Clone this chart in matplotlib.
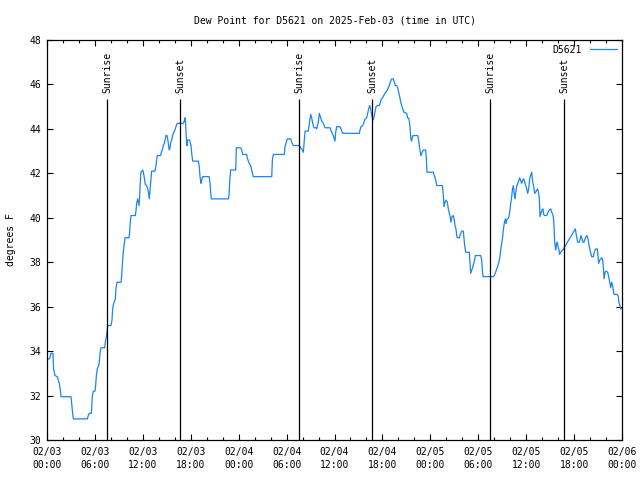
import matplotlib
matplotlib.use("Agg")
import matplotlib.pyplot as plt
from matplotlib.ticker import MultipleLocator

# hours since 2025-02-03 00:00 UTC and dew point (F)
hours = [0.0, 0.3, 0.4, 0.5, 0.75, 0.83, 1.0, 1.29, 1.42, 1.59, 1.67, 1.75, 3.0, 3.09, 3.21, 3.3,
         5.05, 5.17, 5.3, 5.55, 5.59, 5.67, 5.8, 6.01, 6.09, 6.18, 6.3, 6.51, 6.64, 6.76, 7.22, 7.3,
         7.43, 7.51, 7.6, 8.01, 8.14, 8.22, 8.35, 8.56, 8.64, 8.77, 9.27, 9.35, 9.43, 9.52, 9.69, 9.77,
         10.27, 10.35, 10.44, 10.52, 11.06, 11.14, 11.23, 11.35, 11.44, 11.52, 11.6, 11.69, 11.77, 11.98,
         12.06, 12.19, 12.31, 12.48, 12.6, 12.69, 12.81, 12.9, 13.02, 13.1, 13.52, 13.65, 13.73, 13.81,
         14.23, 14.31, 14.44, 14.56, 14.69, 14.81, 14.9, 15.03, 15.11, 15.19, 15.31, 15.4, 15.48, 15.61,
         15.73, 15.82, 15.94, 16.07, 16.19, 16.32, 17.07, 17.19, 17.28, 17.36, 17.45, 17.53, 17.61, 17.74,
         17.87, 17.95, 18.03, 18.12, 18.24, 18.95, 19.07, 19.16, 19.28, 19.37, 19.49, 20.29, 20.41, 20.5,
         20.58, 22.7, 22.79, 22.88, 23.0, 23.63, 23.71, 24.25, 24.38, 24.5, 25.0, 25.08, 25.21, 25.33,
         25.5, 25.63, 25.83, 28.14, 28.22, 28.34, 29.72, 29.8, 30.09, 30.51, 30.64, 30.84, 31.6, 31.76,
         31.97, 32.1, 32.22, 32.31, 32.72, 32.85, 33.02, 33.14, 33.27, 33.43, 33.68, 33.77, 33.97, 34.1,
         34.27, 34.4, 34.6, 34.81, 35.44, 35.65, 35.85, 36.06, 36.15, 36.28, 36.69, 36.81, 37.02, 39.11,
         39.19, 39.32, 39.53, 39.69, 39.82, 40.03, 40.16, 40.28, 40.41, 40.53, 40.61, 40.74, 40.86, 40.99,
         41.11, 41.2, 41.36, 41.61, 41.74, 41.86, 42.03, 42.16, 42.32, 42.54, 42.74, 42.86, 43.04, 43.16,
         43.37, 43.49, 43.62, 43.79, 43.91, 44.04, 44.16, 44.29, 44.41, 44.54, 44.7, 45.04, 45.16, 45.33,
         45.45, 45.54, 45.62, 45.7, 45.83, 46.42, 46.54, 46.67, 46.83, 46.96, 47.12, 47.42, 47.5, 47.58,
         48.37, 48.5, 48.67, 48.8, 49.5, 49.55, 49.63, 49.71, 49.84, 49.96, 50.13, 50.25, 50.38, 50.46,
         50.59, 50.71, 50.88, 51.0, 51.09, 51.21, 51.3, 51.38, 51.63, 51.8, 51.93, 52.13, 52.22, 52.3,
         52.43, 52.88, 52.97, 53.05, 53.18, 53.3, 53.43, 53.55, 53.63, 54.31, 54.43, 54.51, 54.6, 55.89,
         56.01, 56.18, 56.31, 56.47, 56.64, 56.72, 56.81, 56.93, 57.06, 57.14, 57.26, 57.39, 57.48, 57.56,
         57.69, 57.81, 57.94, 58.06, 58.19, 58.27, 58.39, 58.48, 58.6, 58.69, 58.81, 58.94, 59.06, 59.19,
         59.32, 59.44, 59.57, 59.69, 59.82, 59.94, 60.07, 60.19, 60.32, 60.44, 60.57, 60.69, 60.82, 60.94,
         61.07, 61.19, 61.32, 61.44, 61.57, 61.65, 61.73, 61.86, 61.98, 62.11, 62.19, 62.32, 62.57, 62.73,
         62.9, 63.07, 63.2, 63.32, 63.4, 63.49, 63.57, 63.7, 63.82, 63.9, 63.99, 64.11, 64.2, 64.32,
         64.45, 64.57, 64.7, 64.83, 65.08, 65.33, 65.58, 65.83, 66.08, 66.16, 66.24, 66.37, 66.45, 66.65,
         66.74, 66.87, 66.99, 67.12, 67.24, 67.37, 67.49, 67.62, 67.74, 67.87, 67.99, 68.12, 68.2, 68.41,
         68.49, 68.62, 68.75, 68.91, 69.0, 69.08, 69.21, 69.33, 69.46, 69.58, 69.66, 69.75, 69.87, 70.0,
         70.21, 70.33, 70.41, 70.5, 70.58, 70.71, 70.83, 70.91, 71.0, 71.42, 71.54, 71.63, 71.75, 71.83,
         71.92]
dewpt = [33.65, 33.65, 33.75, 33.9, 33.9, 33.2, 32.9, 32.85, 32.7, 32.45, 32.25, 31.95, 31.95, 31.65, 31.2, 30.95,
         30.95, 31.1, 31.2, 31.2, 31.4, 31.95, 32.2, 32.2, 32.45, 32.9, 33.2, 33.4, 33.9, 34.15, 34.15, 34.4,
         34.65, 34.9, 35.15, 35.15, 35.4, 35.9, 36.15, 36.35, 36.85, 37.1, 37.1, 37.4, 37.85, 38.35, 38.85, 39.1,
         39.1, 39.35, 39.85, 40.1, 40.1, 40.3, 40.65, 40.85, 40.7, 40.55, 40.95, 41.65, 42.05, 42.15,
         42.05, 41.8, 41.5, 41.45, 41.3, 41.2, 40.85, 41.25, 41.8, 42.1, 42.1, 42.35, 42.6, 42.8,
         42.8, 42.95, 43.05, 43.25, 43.35, 43.55, 43.7, 43.7, 43.55, 43.35, 43.05, 43.15, 43.35, 43.5,
         43.7, 43.8, 43.9, 44.0, 44.15, 44.25, 44.25, 44.35, 44.5, 44.25, 43.55, 43.25, 43.5, 43.5,
         43.5, 43.35, 43.25, 42.9, 42.55, 42.55, 42.3, 41.85, 41.55, 41.7, 41.85, 41.85, 41.6, 41.1,
         40.85, 40.85, 41.0, 41.65, 42.15, 42.15, 43.15, 43.15, 43.05, 42.85, 42.85, 42.7, 42.55, 42.45,
         42.35, 42.15, 41.85, 41.85, 42.6, 42.85, 42.85, 43.2, 43.55, 43.55, 43.4, 43.25, 43.25, 43.15,
         43.05, 42.95, 43.5, 43.9, 43.9, 44.25, 44.65, 44.5, 44.25, 44.05, 44.05, 44.0, 44.3, 44.7,
         44.5, 44.35, 44.25, 44.05, 44.05, 43.85, 43.7, 43.45, 43.85, 44.1, 44.1, 44.0, 43.8, 43.8,
         43.95, 44.1, 44.15, 44.3, 44.45, 44.5, 44.7, 44.9, 45.05, 44.9, 44.7, 44.5, 44.4, 44.6,
         44.85, 45.0, 45.05, 45.05, 45.2, 45.35, 45.4, 45.5, 45.6, 45.7, 45.85, 45.95, 46.15, 46.25,
         46.25, 46.1, 45.95, 45.95, 45.85, 45.65, 45.45, 45.2, 45.05, 44.9, 44.75, 44.7, 44.5, 44.45,
         44.1, 43.65, 43.45, 43.55, 43.7, 43.7, 43.5, 43.1, 42.8, 42.95, 43.05, 43.05, 42.65, 42.05,
         42.05, 41.9, 41.7, 41.45, 41.45, 41.3, 41.0, 40.5, 40.7, 40.8, 40.7, 40.4, 40.2, 40.1,
         39.8, 40.05, 40.1, 39.9, 39.65, 39.5, 39.2, 39.1, 39.1, 39.3, 39.4, 39.4, 39.05, 38.75,
         38.45, 38.45, 37.95, 37.5, 37.65, 37.75, 37.95, 38.1, 38.3, 38.3, 38.1, 37.65, 37.35, 37.35,
         37.4, 37.55, 37.7, 37.85, 38.1, 38.25, 38.55, 38.85, 39.15, 39.45, 39.75, 39.95, 39.75, 39.9,
         39.95, 40.0, 40.25, 40.65, 40.95, 41.25, 41.45, 41.15, 40.85, 41.15, 41.4, 41.55, 41.65, 41.8,
         41.65, 41.55, 41.7, 41.75, 41.6, 41.45, 41.3, 41.1, 41.3, 41.75, 41.9, 42.05, 41.6, 41.4,
         41.1, 41.15, 41.25, 41.3, 41.1, 40.85, 40.05, 40.2, 40.35, 40.4, 40.15, 40.1, 40.1, 40.25,
         40.35, 40.4, 40.25, 40.15, 40.05, 39.6, 38.9, 38.55, 38.85, 38.9, 38.7, 38.55, 38.35, 38.45,
         38.5, 38.55, 38.6, 38.7, 38.85, 39.0, 39.15, 39.3, 39.45, 39.5, 39.3, 39.05, 38.9, 38.9,
         39.0, 39.2, 39.05, 38.9, 38.9, 39.05, 39.15, 39.2, 39.05, 38.75, 38.55, 38.35, 38.25, 38.25,
         38.4, 38.55, 38.6, 38.6, 38.25, 37.95, 38.1, 38.15, 38.2, 38.1, 37.8, 37.25, 37.55, 37.6,
         37.55, 37.35, 37.2, 37.05, 36.85, 37.1, 36.95, 36.75, 36.55, 36.55, 36.45, 36.15, 36.05, 35.9,
         35.9]

sunrise_hours = [7.55, 31.57, 55.51]
sunset_hours = [16.69, 40.73, 64.78]

tick_hours = list(range(0, 73, 6))
tick_labels = ['02/03\n00:00', '02/03\n06:00', '02/03\n12:00', '02/03\n18:00',
               '02/04\n00:00', '02/04\n06:00', '02/04\n12:00', '02/04\n18:00',
               '02/05\n00:00', '02/05\n06:00', '02/05\n12:00', '02/05\n18:00',
               '02/06\n00:00']

plt.rcParams['font.family'] = ['DejaVu Sans Mono']
plt.rcParams['font.size'] = 7

fig = plt.figure(figsize=(6.4, 4.8), dpi=100)
ax = fig.add_axes([47 / 640, 40 / 480, 575 / 640, 400 / 480])

ax.plot(hours, dewpt, color='#1a84f2', linewidth=0.9, label='D5621')

# sunrise / sunset markers
for h in sunrise_hours:
    ax.vlines(h, 30, 45.35, color='black', linewidth=0.9)
    ax.text(h, 45.6, 'Sunrise', rotation=90, ha='center', va='bottom', fontsize=7)
for h in sunset_hours:
    ax.vlines(h, 30, 45.35, color='black', linewidth=0.9)
    ax.text(h, 45.6, 'Sunset', rotation=90, ha='center', va='bottom', fontsize=7)

ax.set_xlim(0, 72)
ax.set_ylim(30, 48)
ax.set_xticks(tick_hours)
ax.set_xticklabels(tick_labels, linespacing=1.35)
ax.xaxis.set_minor_locator(MultipleLocator(2))
ax.yaxis.set_major_locator(MultipleLocator(2))

ax.tick_params(which='both', direction='in', top=True, right=True, width=0.8, pad=4)
ax.tick_params(axis='x', pad=5)
ax.tick_params(which='major', length=4.5)
ax.tick_params(which='minor', length=2.5)
for s in ax.spines.values():
    s.set_linewidth(0.9)

ax.set_ylabel('degrees F', labelpad=10)
ax.set_title('Dew Point for D5621 on 2025-Feb-03 (time in UTC)', fontsize=7, pad=12)

ax.legend(loc='upper right', frameon=False, markerfirst=False, handlelength=2.8,
          borderaxespad=0.3, borderpad=0.2, fontsize=7)

plt.savefig('out.png', dpi=100)
plt.close()
